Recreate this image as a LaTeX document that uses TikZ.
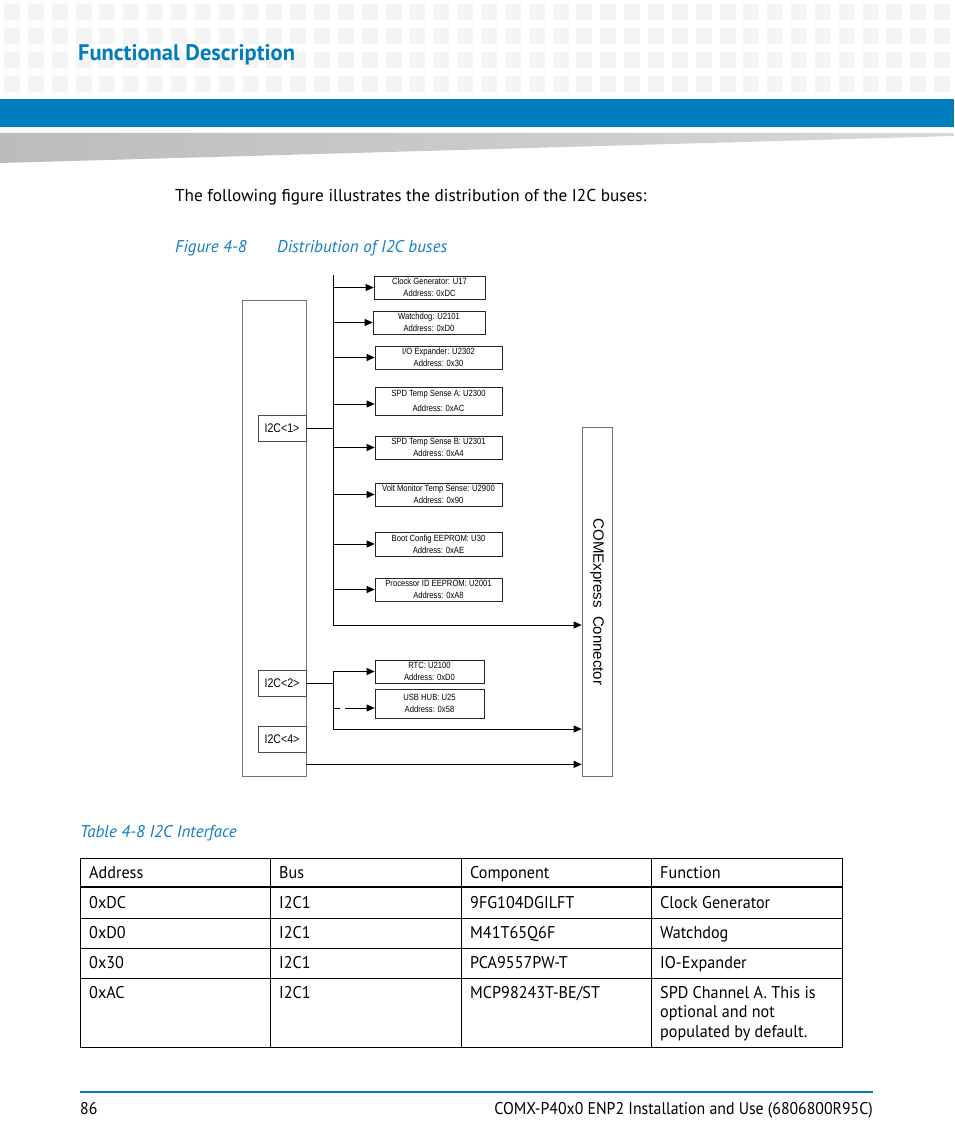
\documentclass[tikz,border=0pt]{standalone}
\usepackage{fontspec}
\setmainfont{PT Sans}
\newfontfamily\docf{PT Sans}[FakeStretch=0.95]
\newfontfamily\bodyf{PT Sans}
\newfontfamily\footf{PT Sans}[FakeStretch=0.93]
\newfontfamily\diagf{Liberation Sans}[FakeStretch=0.85]
\newfontfamily\connf{Liberation Sans}
\usetikzlibrary{arrows.meta}
\definecolor{ablue}{RGB}{0,125,189}
\definecolor{sqgrey}{RGB}{244,244,244}
\definecolor{wedgeA}{RGB}{187,188,190}
\definecolor{wedgeB}{RGB}{215,216,218}
\definecolor{capblue}{RGB}{20,125,195}
\begin{document}
\begin{tikzpicture}[x=1pt,y=-1pt,
  txt/.style={anchor=base west, inner sep=0, font=\docf\fontsize{17}{20}\selectfont},
  captxt/.style={txt, text=capblue, font=\bodyf\itshape\fontsize{17}{20}\selectfont},
  dev/.style={draw=black!85, line width=0.7pt, inner sep=0, align=center,
    font=\diagf\fontsize{9}{12}\selectfont},
  blk/.style={draw=black!55, line width=0.7pt, inner sep=0},
  port/.style={draw=black!70, line width=0.7pt, inner sep=0, minimum width=48, minimum height=26,
    font=\diagf\fontsize{12.5}{14}\selectfont},
  arr/.style={-{Triangle[length=8pt,width=7pt]}, line width=0.8pt},
  wire/.style={line width=0.8pt}]
\useasboundingbox (0,0) rectangle (954,1145);
\fill[white] (0,0) rectangle (954,1145);
% header pattern
\foreach \i in {0,...,39} \foreach \j in {0,...,3}
  \fill[sqgrey] ({4+23.85*\i},{4+24*\j}) rectangle ++(16,16);
\fill[ablue] (0,99) rectangle (954,127);
\shade[left color=wedgeA, right color=wedgeB] (0,133) -- (954,133) -- (954,136) -- (0,163) -- cycle;
\node[anchor=base west, inner sep=0, text=ablue, font=\bodyf\bfseries\fontsize{22.5}{26}\selectfont] (title) at (78,61) {Functional Description};

\node[txt, font=\bodyf\fontsize{17.2}{20}\selectfont] (intro) at (175,201) {The following figure illustrates the distribution of the I2C buses:};
\node[captxt] (fig) at (175,252) {Figure 4-8};
\node[captxt] (figt) at (277,252) {Distribution of I2C buses};

% diagram
\node[blk, minimum width=64, minimum height=476] (soc) at (274,538) {};
\node[port] (p1) at (282,428) {I2C<1>};
\node[port] (p2) at (282,683) {I2C<2>};
\node[port] (p4) at (282,739) {I2C<4>};
\node[blk, minimum width=30, minimum height=349] (conn) at (597,601.5) {};
\node[rotate=-90, inner sep=0, font=\connf\fontsize{15}{16}\selectfont] (connl) at (597,602) {COMExpress\hspace{4pt} Connector};

\node[dev, minimum width=111, minimum height=23] (d1) at (429.5,287.5) {Clock Generator: U17\\Address: 0xDC};
\node[dev, minimum width=112, minimum height=23] (d2) at (429,322.5) {Watchdog: U2101\\Address: 0xD0};
\node[dev, minimum width=127, minimum height=23] (d3) at (438.5,357.5) {I/O Expander: U2302\\Address: 0x30};
\node[dev, minimum width=127, minimum height=28, font=\diagf\fontsize{9}{15}\selectfont] (d4) at (438.5,401) {SPD Temp Sense A: U2300\\Address: 0xAC};
\node[dev, minimum width=127, minimum height=23] (d5) at (438.5,447.5) {SPD Temp Sense B: U2301\\Address: 0xA4};
\node[dev, minimum width=127, minimum height=23] (d6) at (438.5,494.5) {Volt Monitor Temp Sense: U2900\\Address: 0x90};
\node[dev, minimum width=127, minimum height=24] (d7) at (438.5,544) {Boot Config EEPROM: U30\\Address: 0xAE};
\node[dev, minimum width=127, minimum height=23] (d8) at (438.5,589.5) {Processor ID EEPROM: U2001\\Address: 0xA8};
\node[dev, minimum width=109, minimum height=23] (r1) at (429.5,671.5) {RTC: U2100\\Address: 0xD0};
\node[dev, minimum width=109, minimum height=29] (r2) at (429.5,703.5) {USB HUB: U25\\Address: 0x58};

\coordinate (bt) at (333,275);
\coordinate (bb) at (333,625);
\draw[wire] (bt) -- (bb);
\draw[wire] (p1.east) -- (p1.east -| bt);
\draw[arr] (bb) -- (bb -| conn.west);
\foreach \d in {d1,d2,d3,d5,d6,d7,d8}
  \draw[arr] (\d.west -| bt) -- (\d.west);
\draw[arr] ([yshift=-3pt]d4.west -| bt) -- ([yshift=-3pt]d4.west);

\coordinate (ct) at (333,671.5);
\coordinate (cb) at (333,729);
\draw[wire] (ct) -- (cb);
\draw[wire] (p2.east) -- (p2.east -| ct);
\draw[arr] (ct) -- (r1.west);
\coordinate (ds) at (333,708);
\path (ds) ++(7,0) coordinate (dsa) ++(5,0) coordinate (dsb);
\draw[wire] (ds) -- (dsa);
\draw[arr] (dsb) -- (dsb -| r2.west);
\draw[arr] (cb) -- (cb -| conn.west);
\draw[arr] ([yshift=12pt]soc.south east) -- ([yshift=12pt]soc.south east -| conn.west);

% table
\node[captxt] (tcap) at (80,837) {Table 4-8 I2C Interface};
\draw[line width=0.9pt] (80,858) rectangle (842,1047);
\foreach \x in {270,461,651} \draw[line width=0.9pt] (\x,858) -- (\x,1047);
\foreach \y in {918,948,978} \draw[line width=0.9pt] (80,\y) -- (842,\y);
\draw[line width=2.8pt] (80,887) -- (842,887);

\node[txt] (h1) at (89,878) {Address};
\node[txt] (h2) at (279,878) {Bus};
\node[txt] (h3) at (470,878) {Component};
\node[txt] (h4) at (660,878) {Function};

\node[txt] (a1) at (89,908) {0xDC};
\node[txt] (b1) at (279,908) {I2C1};
\node[txt] (c1) at (470,908) {9FG104DGILFT};
\node[txt] (e1) at (660,908) {Clock Generator};

\node[txt] (a2) at (89,938) {0xD0};
\node[txt] (b2) at (279,938) {I2C1};
\node[txt] (c2) at (470,938) {M41T65Q6F};
\node[txt] (e2) at (660,938) {Watchdog};

\node[txt] (a3) at (89,968) {0x30};
\node[txt] (b3) at (279,968) {I2C1};
\node[txt] (c3) at (470,968) {PCA9557PW-T};
\node[txt] (e3) at (660,968) {IO-Expander};

\node[txt] (a4) at (89,998) {0xAC};
\node[txt] (b4) at (279,998) {I2C1};
\node[txt] (c4) at (470,998) {MCP98243T-BE/ST};
\node[txt] (e4) at (660,998) {SPD Channel A. This is};
\node[txt] (e4b) at (660,1017.5) {optional and not};
\node[txt] (e4c) at (660,1037) {populated by default.};

% footer
\draw[ablue, line width=2pt] (80,1092) -- (873,1092);
\node[txt, font=\footf\fontsize{17}{20}\selectfont] (pg) at (80,1114) {86};
\node[txt, anchor=base east, font=\footf\fontsize{17}{20}\selectfont] (ft) at (873,1114) {COMX-P40x0 ENP2 Installation and Use (6806800R95C)};
\end{tikzpicture}
\end{document}
